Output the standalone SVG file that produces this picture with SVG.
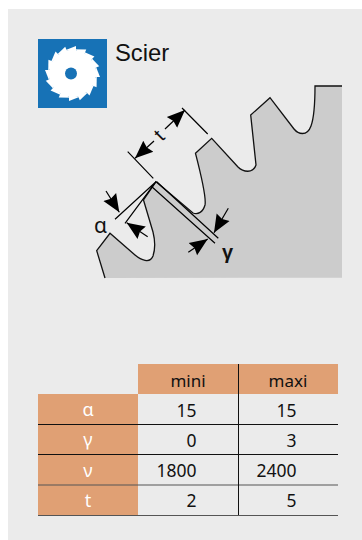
<svg xmlns="http://www.w3.org/2000/svg" width="362" height="540" viewBox="0 0 362 540">
<style>
.dim{stroke:#000;stroke-width:1.2;fill:none}
.tx{font-family:"Noto Sans","Open Sans",sans-serif;font-size:17px;fill:#111;text-anchor:middle}
.num{font-family:"Noto Sans","Open Sans",sans-serif;font-size:17.5px;fill:#111;text-anchor:end}
.hd{fill:#e0a074}
.wh{font-family:"Noto Sans","Open Sans",sans-serif;font-size:18px;fill:#fff;text-anchor:middle}
.rule{stroke:#111;stroke-width:1}
</style>
<defs>
<marker id="ah" markerWidth="19" markerHeight="18" refX="18" refY="9" orient="auto" markerUnits="userSpaceOnUse"><path d="M0 1.500L18 9L0 16.500L2 9Z" fill="#000"/></marker>
<path id="tooth" d="M-8 -23L3.500 -27.500L3.500 -22Z" fill="#fff"/>
</defs>
<rect width="362" height="540" fill="#fff"/>
<rect x="8" y="9" width="354" height="531" fill="#ebebeb"/>
<g id="icon">
<rect x="38" y="39" width="69" height="69" fill="#1772b6"/>
<g transform="translate(72.500 73.500)">
<circle r="23.500" fill="#fff"/>
<use href="#tooth"/><use href="#tooth" transform="rotate(22.5)"/><use href="#tooth" transform="rotate(45)"/><use href="#tooth" transform="rotate(67.5)"/>
<use href="#tooth" transform="rotate(90)"/><use href="#tooth" transform="rotate(112.5)"/><use href="#tooth" transform="rotate(135)"/><use href="#tooth" transform="rotate(157.5)"/>
<use href="#tooth" transform="rotate(180)"/><use href="#tooth" transform="rotate(202.5)"/><use href="#tooth" transform="rotate(225)"/><use href="#tooth" transform="rotate(247.5)"/>
<use href="#tooth" transform="rotate(270)"/><use href="#tooth" transform="rotate(292.5)"/><use href="#tooth" transform="rotate(315)"/><use href="#tooth" transform="rotate(337.5)"/>
</g>
<circle cx="71" cy="73.500" r="6" fill="#1772b6"/>
</g>
<text id="title" x="115" y="61" font-family="'Liberation Sans',Arial,sans-serif" font-size="23.800" fill="#111">Scier</text>
<g id="saw">
<path fill="#ccc" stroke="none" d="M105 278L96.700 250.700L110 233.300L135 255C141 260 150 264 153 256C155 250 155 240 153 232L143.500 200L156 181.700L193 213C198 215 203 212 205 205C206 200 205 190 195.500 153.300L211.700 138.300L238 167C243 172 253 174 256 165L250.700 115L270 97.700L294 129C298 134 307 137 311 126C315 115 315 100 315 86L342 86L342 277.700Z"/>
<path fill="none" stroke="#111" stroke-width="1.300" d="M105 278L96.700 250.700L110 233.300L135 255C141 260 150 264 153 256C155 250 155 240 153 232L143.500 200L156 181.700L193 213C198 215 203 212 205 205C206 200 205 190 195.500 153.300L211.700 138.300L238 167C243 172 253 174 256 165L250.700 115L270 97.700L294 129C298 134 307 137 311 126C315 115 315 100 315 86L342 86"/>
</g>
<g id="connectors">
<path class="dim" d="M127.700 151.700L153.300 178.300M207.700 134L182 108"/>
<path class="dim" d="M115 219.300L156 181.700L125 223.300M156.700 181.700L218.300 238.300M151 186L215 243.300"/>
<path class="dim" marker-end="url(#ah)" d="M154 141L135 158.300"/>
<path class="dim" marker-end="url(#ah)" d="M165 129L185 110"/>
<path class="dim" marker-end="url(#ah)" d="M106 191L119.300 212.300"/>
<path class="dim" marker-end="url(#ah)" d="M147.700 236.700L126.700 222.700"/>
<path class="dim" marker-end="url(#ah)" d="M228.300 208.300L214 232.700"/>
<path class="dim" marker-end="url(#ah)" d="M188.300 252.300L207.700 239"/>
</g>
<text x="159" y="142" font-family="'Liberation Sans',Arial,sans-serif" font-size="20" fill="#111" text-anchor="middle" transform="rotate(-45 159 135)">t</text>
<text x="100.500" y="233" font-family="'Noto Sans',sans-serif" font-size="21" fill="#111" text-anchor="middle">α</text>
<text x="227.500" y="259" font-family="'Liberation Sans',sans-serif" font-weight="bold" font-size="20" fill="#111" text-anchor="middle">γ</text>
<g id="table">
<rect class="hd" x="138" y="364" width="200" height="30"/>
<rect class="hd" x="38" y="394" width="100" height="121"/>
<path class="rule" d="M38 424.500H338M38 454.500H338"/>
<path stroke="#555" stroke-width="1.200" d="M38 485H338M38 515.500H338"/>
<path class="rule" d="M238.500 364V515"/>
<text class="tx" x="188" y="386.500">mini</text><text class="tx" x="288" y="386.500">maxi</text>
<text class="wh" x="88" y="416">α</text><text class="wh" x="88" y="446">γ</text><text class="wh" x="88" y="477">ν</text><text class="wh" x="88" y="507">t</text>
<text class="num" x="196.500" y="416.500">15</text><text class="num" x="296.500" y="416.500">15</text>
<text class="num" x="196.500" y="447">0</text><text class="num" x="296.500" y="447">3</text>
<text class="num" x="196.500" y="477">1800</text><text class="num" x="296.500" y="477">2400</text>
<text class="num" x="196.500" y="507">2</text><text class="num" x="296.500" y="507">5</text>
</g>
</svg>
